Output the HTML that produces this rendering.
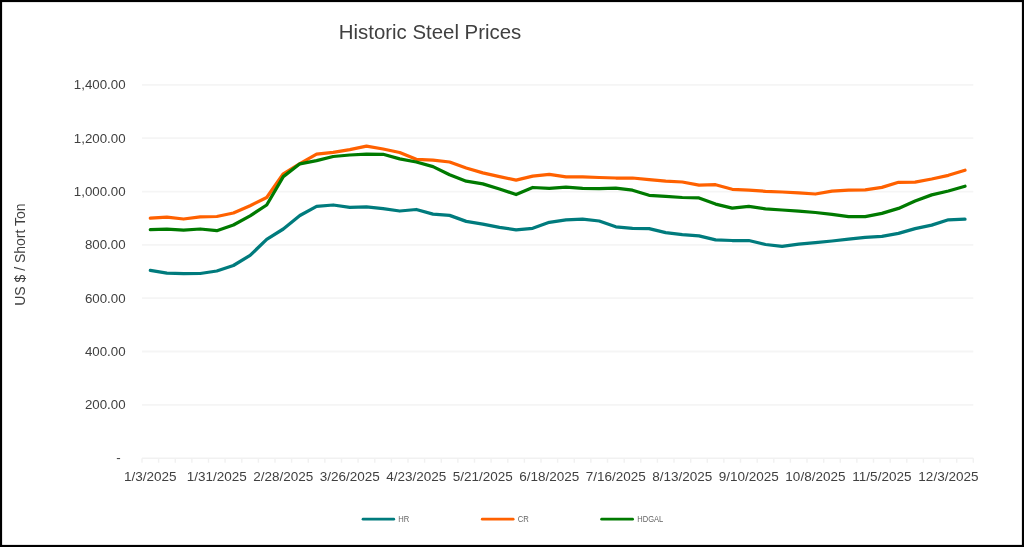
<!DOCTYPE html>
<html><head><meta charset="utf-8"><style>
html,body{margin:0;padding:0;background:#fff;}
body{width:1024px;height:547px;overflow:hidden;}
svg{display:block;will-change:transform;}
text{font-family:"Liberation Sans",sans-serif;fill:#404040;}
.yl{font-size:13.3px;}
.xl{font-size:13.5px;}
.title{font-size:20.4px;}
.lg{font-size:8.6px;fill:#656565;}
</style></head><body>
<svg width="1024" height="547" viewBox="0 0 1024 547">
<rect x="0" y="0" width="1024" height="547" fill="#fff"/>
<line x1="142.0" y1="404.9" x2="973.3" y2="404.9" stroke="#F5F5F5" stroke-width="1.8"/>
<line x1="142.0" y1="351.5" x2="973.3" y2="351.5" stroke="#F5F5F5" stroke-width="1.8"/>
<line x1="142.0" y1="298.2" x2="973.3" y2="298.2" stroke="#F5F5F5" stroke-width="1.8"/>
<line x1="142.0" y1="244.9" x2="973.3" y2="244.9" stroke="#F5F5F5" stroke-width="1.8"/>
<line x1="142.0" y1="191.6" x2="973.3" y2="191.6" stroke="#F5F5F5" stroke-width="1.8"/>
<line x1="142.0" y1="138.2" x2="973.3" y2="138.2" stroke="#F5F5F5" stroke-width="1.8"/>
<line x1="142.0" y1="84.9" x2="973.3" y2="84.9" stroke="#F5F5F5" stroke-width="1.8"/>

<line x1="142.0" y1="458.2" x2="973.3" y2="458.2" stroke="#F1F1F1" stroke-width="1.6"/>
<line x1="142.0" y1="458.2" x2="142.0" y2="462.7" stroke="#F1F1F1" stroke-width="1.4"/>
<line x1="158.6" y1="458.2" x2="158.6" y2="462.7" stroke="#F1F1F1" stroke-width="1.4"/>
<line x1="175.3" y1="458.2" x2="175.3" y2="462.7" stroke="#F1F1F1" stroke-width="1.4"/>
<line x1="191.9" y1="458.2" x2="191.9" y2="462.7" stroke="#F1F1F1" stroke-width="1.4"/>
<line x1="208.5" y1="458.2" x2="208.5" y2="462.7" stroke="#F1F1F1" stroke-width="1.4"/>
<line x1="225.1" y1="458.2" x2="225.1" y2="462.7" stroke="#F1F1F1" stroke-width="1.4"/>
<line x1="241.8" y1="458.2" x2="241.8" y2="462.7" stroke="#F1F1F1" stroke-width="1.4"/>
<line x1="258.4" y1="458.2" x2="258.4" y2="462.7" stroke="#F1F1F1" stroke-width="1.4"/>
<line x1="275.0" y1="458.2" x2="275.0" y2="462.7" stroke="#F1F1F1" stroke-width="1.4"/>
<line x1="291.6" y1="458.2" x2="291.6" y2="462.7" stroke="#F1F1F1" stroke-width="1.4"/>
<line x1="308.3" y1="458.2" x2="308.3" y2="462.7" stroke="#F1F1F1" stroke-width="1.4"/>
<line x1="324.9" y1="458.2" x2="324.9" y2="462.7" stroke="#F1F1F1" stroke-width="1.4"/>
<line x1="341.5" y1="458.2" x2="341.5" y2="462.7" stroke="#F1F1F1" stroke-width="1.4"/>
<line x1="358.1" y1="458.2" x2="358.1" y2="462.7" stroke="#F1F1F1" stroke-width="1.4"/>
<line x1="374.8" y1="458.2" x2="374.8" y2="462.7" stroke="#F1F1F1" stroke-width="1.4"/>
<line x1="391.4" y1="458.2" x2="391.4" y2="462.7" stroke="#F1F1F1" stroke-width="1.4"/>
<line x1="408.0" y1="458.2" x2="408.0" y2="462.7" stroke="#F1F1F1" stroke-width="1.4"/>
<line x1="424.6" y1="458.2" x2="424.6" y2="462.7" stroke="#F1F1F1" stroke-width="1.4"/>
<line x1="441.3" y1="458.2" x2="441.3" y2="462.7" stroke="#F1F1F1" stroke-width="1.4"/>
<line x1="457.9" y1="458.2" x2="457.9" y2="462.7" stroke="#F1F1F1" stroke-width="1.4"/>
<line x1="474.5" y1="458.2" x2="474.5" y2="462.7" stroke="#F1F1F1" stroke-width="1.4"/>
<line x1="491.1" y1="458.2" x2="491.1" y2="462.7" stroke="#F1F1F1" stroke-width="1.4"/>
<line x1="507.8" y1="458.2" x2="507.8" y2="462.7" stroke="#F1F1F1" stroke-width="1.4"/>
<line x1="524.4" y1="458.2" x2="524.4" y2="462.7" stroke="#F1F1F1" stroke-width="1.4"/>
<line x1="541.0" y1="458.2" x2="541.0" y2="462.7" stroke="#F1F1F1" stroke-width="1.4"/>
<line x1="557.6" y1="458.2" x2="557.6" y2="462.7" stroke="#F1F1F1" stroke-width="1.4"/>
<line x1="574.3" y1="458.2" x2="574.3" y2="462.7" stroke="#F1F1F1" stroke-width="1.4"/>
<line x1="590.9" y1="458.2" x2="590.9" y2="462.7" stroke="#F1F1F1" stroke-width="1.4"/>
<line x1="607.5" y1="458.2" x2="607.5" y2="462.7" stroke="#F1F1F1" stroke-width="1.4"/>
<line x1="624.2" y1="458.2" x2="624.2" y2="462.7" stroke="#F1F1F1" stroke-width="1.4"/>
<line x1="640.8" y1="458.2" x2="640.8" y2="462.7" stroke="#F1F1F1" stroke-width="1.4"/>
<line x1="657.4" y1="458.2" x2="657.4" y2="462.7" stroke="#F1F1F1" stroke-width="1.4"/>
<line x1="674.0" y1="458.2" x2="674.0" y2="462.7" stroke="#F1F1F1" stroke-width="1.4"/>
<line x1="690.7" y1="458.2" x2="690.7" y2="462.7" stroke="#F1F1F1" stroke-width="1.4"/>
<line x1="707.3" y1="458.2" x2="707.3" y2="462.7" stroke="#F1F1F1" stroke-width="1.4"/>
<line x1="723.9" y1="458.2" x2="723.9" y2="462.7" stroke="#F1F1F1" stroke-width="1.4"/>
<line x1="740.5" y1="458.2" x2="740.5" y2="462.7" stroke="#F1F1F1" stroke-width="1.4"/>
<line x1="757.2" y1="458.2" x2="757.2" y2="462.7" stroke="#F1F1F1" stroke-width="1.4"/>
<line x1="773.8" y1="458.2" x2="773.8" y2="462.7" stroke="#F1F1F1" stroke-width="1.4"/>
<line x1="790.4" y1="458.2" x2="790.4" y2="462.7" stroke="#F1F1F1" stroke-width="1.4"/>
<line x1="807.0" y1="458.2" x2="807.0" y2="462.7" stroke="#F1F1F1" stroke-width="1.4"/>
<line x1="823.7" y1="458.2" x2="823.7" y2="462.7" stroke="#F1F1F1" stroke-width="1.4"/>
<line x1="840.3" y1="458.2" x2="840.3" y2="462.7" stroke="#F1F1F1" stroke-width="1.4"/>
<line x1="856.9" y1="458.2" x2="856.9" y2="462.7" stroke="#F1F1F1" stroke-width="1.4"/>
<line x1="873.5" y1="458.2" x2="873.5" y2="462.7" stroke="#F1F1F1" stroke-width="1.4"/>
<line x1="890.2" y1="458.2" x2="890.2" y2="462.7" stroke="#F1F1F1" stroke-width="1.4"/>
<line x1="906.8" y1="458.2" x2="906.8" y2="462.7" stroke="#F1F1F1" stroke-width="1.4"/>
<line x1="923.4" y1="458.2" x2="923.4" y2="462.7" stroke="#F1F1F1" stroke-width="1.4"/>
<line x1="940.0" y1="458.2" x2="940.0" y2="462.7" stroke="#F1F1F1" stroke-width="1.4"/>
<line x1="956.7" y1="458.2" x2="956.7" y2="462.7" stroke="#F1F1F1" stroke-width="1.4"/>
<line x1="973.3" y1="458.2" x2="973.3" y2="462.7" stroke="#F1F1F1" stroke-width="1.4"/>

<text x="125.6" y="409.3" text-anchor="end" class="yl">200.00</text>
<text x="125.6" y="355.9" text-anchor="end" class="yl">400.00</text>
<text x="125.6" y="302.6" text-anchor="end" class="yl">600.00</text>
<text x="125.6" y="249.3" text-anchor="end" class="yl">800.00</text>
<text x="125.6" y="196.0" text-anchor="end" class="yl">1,000.00</text>
<text x="125.6" y="142.6" text-anchor="end" class="yl">1,200.00</text>
<text x="125.6" y="89.3" text-anchor="end" class="yl">1,400.00</text>

<text x="120.8" y="462.2" text-anchor="end" class="yl">-</text>
<text x="150.3" y="481.3" text-anchor="middle" class="xl">1/3/2025</text>
<text x="216.8" y="481.3" text-anchor="middle" class="xl">1/31/2025</text>
<text x="283.3" y="481.3" text-anchor="middle" class="xl">2/28/2025</text>
<text x="349.8" y="481.3" text-anchor="middle" class="xl">3/26/2025</text>
<text x="416.3" y="481.3" text-anchor="middle" class="xl">4/23/2025</text>
<text x="482.8" y="481.3" text-anchor="middle" class="xl">5/21/2025</text>
<text x="549.3" y="481.3" text-anchor="middle" class="xl">6/18/2025</text>
<text x="615.8" y="481.3" text-anchor="middle" class="xl">7/16/2025</text>
<text x="682.3" y="481.3" text-anchor="middle" class="xl">8/13/2025</text>
<text x="748.8" y="481.3" text-anchor="middle" class="xl">9/10/2025</text>
<text x="815.4" y="481.3" text-anchor="middle" class="xl">10/8/2025</text>
<text x="881.9" y="481.3" text-anchor="middle" class="xl">11/5/2025</text>
<text x="948.4" y="481.3" text-anchor="middle" class="xl">12/3/2025</text>

<text x="338.8" y="38.9" class="title">Historic Steel Prices</text>
<text transform="translate(24.8,254.6) rotate(-90)" text-anchor="middle" style="font-size:14px">US $ / Short Ton</text>
<polyline points="150.3,270.4 166.9,273.2 183.6,273.7 200.2,273.5 216.8,271.0 233.4,265.5 250.1,255.4 266.7,239.3 283.3,229.0 299.9,215.5 316.6,206.4 333.2,205.0 349.8,207.3 366.5,206.8 383.1,208.6 399.7,211.0 416.3,209.5 433.0,214.1 449.6,215.4 466.2,221.4 482.8,224.1 499.5,227.4 516.1,229.9 532.7,228.3 549.3,222.3 566.0,219.9 582.6,219.2 599.2,221.0 615.8,226.8 632.5,228.3 649.1,228.6 665.7,232.6 682.3,234.6 699.0,235.9 715.6,239.9 732.2,240.5 748.8,240.5 765.5,244.5 782.1,246.3 798.7,244.1 815.4,242.6 832.0,241.0 848.6,239.2 865.2,237.3 881.9,236.4 898.5,233.4 915.1,228.6 931.7,225.1 948.4,219.8 965.0,219.1" fill="none" stroke="#007B7D" stroke-width="3.25" stroke-linejoin="round" stroke-linecap="round"/>
<polyline points="150.3,218.1 166.9,217.1 183.6,219.0 200.2,216.8 216.8,216.5 233.4,213.0 250.1,205.7 266.7,197.5 283.3,173.8 299.9,163.7 316.6,154.1 333.2,152.3 349.8,149.6 366.5,146.1 383.1,149.0 399.7,152.5 416.3,159.3 433.0,160.2 449.6,162.0 466.2,168.0 482.8,172.9 499.5,176.6 516.1,180.2 532.7,176.2 549.3,174.4 566.0,176.9 582.6,176.9 599.2,177.5 615.8,178.0 632.5,178.0 649.1,179.6 665.7,181.1 682.3,182.0 699.0,185.1 715.6,184.7 732.2,189.3 748.8,190.2 765.5,191.3 782.1,192.0 798.7,192.9 815.4,194.0 832.0,191.1 848.6,190.2 865.2,189.8 881.9,187.4 898.5,182.3 915.1,182.2 931.7,179.0 948.4,175.3 965.0,170.2" fill="none" stroke="#FF6100" stroke-width="3.25" stroke-linejoin="round" stroke-linecap="round"/>
<polyline points="150.3,229.6 166.9,229.2 183.6,230.1 200.2,229.0 216.8,230.7 233.4,225.0 250.1,215.8 266.7,205.0 283.3,176.6 299.9,163.8 316.6,160.7 333.2,156.5 349.8,155.0 366.5,154.1 383.1,154.3 399.7,158.9 416.3,162.0 433.0,166.6 449.6,174.8 466.2,181.2 482.8,183.9 499.5,189.0 516.1,194.5 532.7,187.5 549.3,188.4 566.0,187.2 582.6,188.4 599.2,188.6 615.8,188.1 632.5,190.2 649.1,195.3 665.7,196.3 682.3,197.5 699.0,197.9 715.6,204.1 732.2,208.1 748.8,206.3 765.5,208.9 782.1,210.0 798.7,211.2 815.4,212.5 832.0,214.3 848.6,216.7 865.2,216.7 881.9,213.4 898.5,208.4 915.1,201.0 931.7,194.9 948.4,191.0 965.0,186.2" fill="none" stroke="#007A00" stroke-width="3.25" stroke-linejoin="round" stroke-linecap="round"/>
<line x1="363.0" y1="519.2" x2="393.8" y2="519.2" stroke="#007B7D" stroke-width="2.7" stroke-linecap="round"/>
<text x="398.3" y="521.9" class="lg" textLength="11" lengthAdjust="spacingAndGlyphs">HR</text>
<line x1="482.2" y1="519.2" x2="513.2" y2="519.2" stroke="#FF6100" stroke-width="2.7" stroke-linecap="round"/>
<text x="517.7" y="521.9" class="lg" textLength="11.1" lengthAdjust="spacingAndGlyphs">CR</text>
<line x1="601.6" y1="519.2" x2="632.6" y2="519.2" stroke="#007A00" stroke-width="2.7" stroke-linecap="round"/>
<text x="637.3" y="521.9" class="lg" textLength="25.9" lengthAdjust="spacingAndGlyphs">HDGAL</text>
<rect x="1" y="1" width="1022" height="545" fill="none" stroke="#000" stroke-width="2.2"/>
</svg>
</body></html>
